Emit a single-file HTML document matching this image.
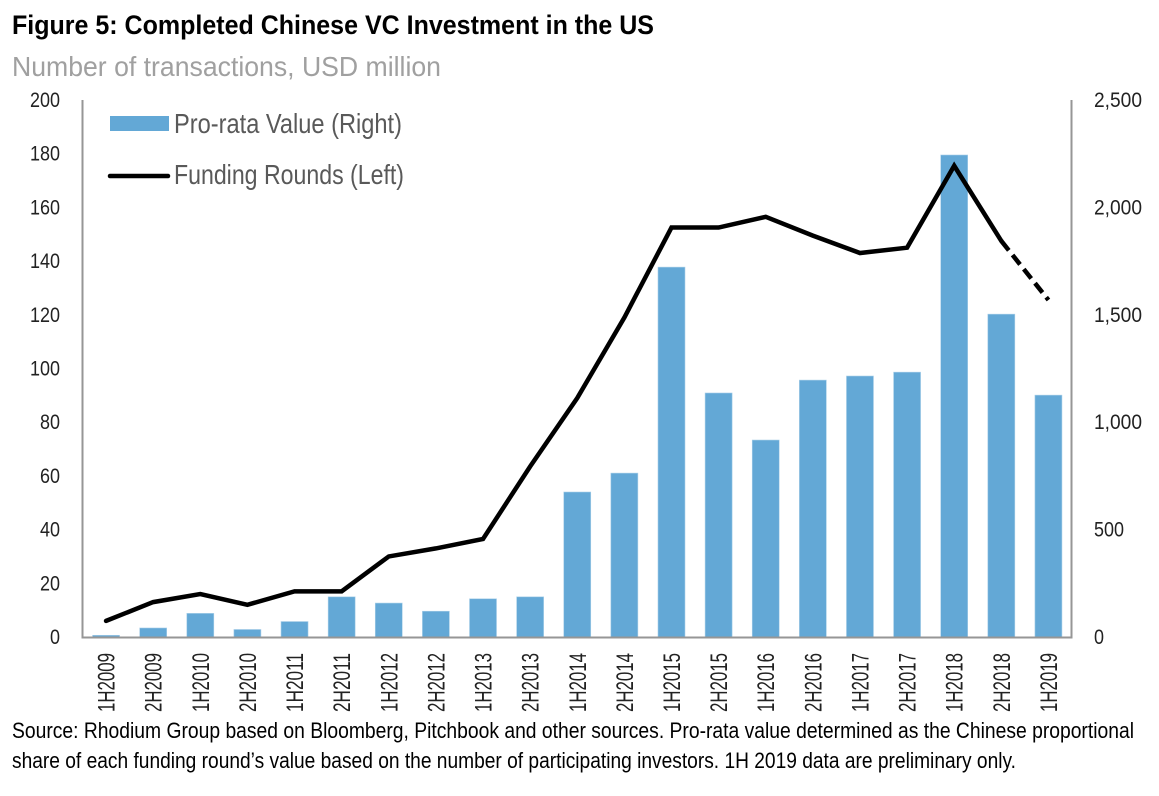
<!DOCTYPE html>
<html>
<head>
<meta charset="utf-8">
<style>
html,body{margin:0;padding:0;background:#fff;width:1159px;height:796px;overflow:hidden}
svg{display:block}
text{font-family:"Liberation Sans",sans-serif}
</style>
</head>
<body>
<svg id="chart" width="1159" height="796" viewBox="0 0 1159 796" xmlns="http://www.w3.org/2000/svg">
  <text x="12" y="34" font-size="27" font-weight="bold" fill="#000" textLength="642" lengthAdjust="spacingAndGlyphs">Figure 5: Completed Chinese VC Investment in the US</text>
  <text x="12" y="76" font-size="28" fill="#a0a0a0" textLength="429" lengthAdjust="spacingAndGlyphs">Number of transactions, USD million</text>
  <g id="bars"></g>
  <path id="axes" d="M82.5 100V637.5H1071.5V100" fill="none" stroke="#969696" stroke-width="2"></path>
  <g id="lines"></g>
  <g id="ticks"></g>
  <rect x="110" y="116" width="59" height="15" fill="#63a8d6"></rect>
  <text x="174" y="133" font-size="28" fill="#595959" textLength="228" lengthAdjust="spacingAndGlyphs">Pro-rata Value (Right)</text>
  <line x1="110" y1="176" x2="168" y2="176" stroke="#000" stroke-width="4.5" stroke-linecap="round"></line>
  <text x="174" y="184" font-size="28" fill="#595959" textLength="230" lengthAdjust="spacingAndGlyphs">Funding Rounds (Left)</text>
  <text x="12" y="738" font-size="22" fill="#000" textLength="1122" lengthAdjust="spacingAndGlyphs">Source: Rhodium Group based on Bloomberg, Pitchbook and other sources. Pro-rata value determined as the Chinese proportional</text>
  <text x="12" y="768" font-size="22" fill="#000" textLength="1004" lengthAdjust="spacingAndGlyphs">share of each funding round’s value based on the number of participating investors. 1H 2019 data are preliminary only.</text>
</svg>
<script>
var categories = ["1H2009","2H2009","1H2010","2H2010","1H2011","2H2011","1H2012","2H2012","1H2013","2H2013","1H2014","2H2014","1H2015","2H2015","1H2016","2H2016","1H2017","2H2017","1H2018","2H2018","1H2019"];
var proRataValue = [8,42,110,35,72,187,158,120,178,187,675,763,1722,1136,917,1196,1215,1233,2244,1503,1126];
var fundingRounds = [6,13,16,12,17,17,30,33,36.5,63.5,89,119,152.5,152.5,156.5,149.5,143,145,175.5,147.5,125.5];
var leftTicks = [0,20,40,60,80,100,120,140,160,180,200];
var rightTicks = ["0","500","1,000","1,500","2,000","2,500"];
var rightTickValues = [0,500,1000,1500,2000,2500];
var preliminaryCount = 1;

var NS = "http://www.w3.org/2000/svg";
var plotLeft = 82.5, plotRight = 1072, plotTop = 100, plotBottom = 637;
var leftMax = 200, rightMax = 2500;
function xBand(i){ return plotLeft + (i + 0.5) * (plotRight - plotLeft) / categories.length; }
function yLeft(v){ return plotBottom - v / leftMax * (plotBottom - plotTop); }
function yRight(v){ return plotBottom - v / rightMax * (plotBottom - plotTop); }
function labelWidth(t){
  var w = 0;
  for (var i = 0; i < t.length; i++) w += t.charAt(i) === "," ? 8 : 10;
  return w;
}
function make(tag, attrs, parent, txt){
  var el = document.createElementNS(NS, tag);
  for (var k in attrs) el.setAttribute(k, attrs[k]);
  if (txt !== undefined) el.textContent = txt;
  parent.appendChild(el);
  return el;
}
var barsG = document.getElementById("bars");
var linesG = document.getElementById("lines");
var ticksG = document.getElementById("ticks");
var barWidth = 27;
proRataValue.forEach(function(v, i){
  var el = make("rect", {x: xBand(i) - barWidth / 2, y: yRight(v), width: barWidth, height: plotBottom - yRight(v), fill: "#63a8d6", stroke: "#a9cfe8", "stroke-width": 0.6}, barsG);
  
  
});
function linePath(from, to){
  var d = "";
  for (var i = from; i <= to; i++) d += (i === from ? "M" : "L") + xBand(i) + " " + yLeft(fundingRounds[i]);
  return d;
}
var lastSolid = fundingRounds.length - 1 - preliminaryCount;
var solid = make("path", {d: linePath(0, lastSolid), fill: "none", stroke: "#000", "stroke-width": 4.5, "stroke-linejoin": "miter", "stroke-linecap": "round"}, linesG);


var dashed = make("path", {d: linePath(lastSolid, fundingRounds.length - 1), fill: "none", stroke: "#000", "stroke-width": 4.5, "stroke-dasharray": "12 6"}, linesG);


leftTicks.forEach(function(v){
  var t = String(v);
  var el = make("text", {x: 60, y: yLeft(v) + 7, "text-anchor": "end", "font-size": 21, fill: "#222", textLength: labelWidth(t), lengthAdjust: "spacingAndGlyphs"}, ticksG, t);
  
  
});
rightTicks.forEach(function(t, i){
  var el = make("text", {x: 1094, y: yRight(rightTickValues[i]) + 7, "font-size": 21, fill: "#222", textLength: labelWidth(t), lengthAdjust: "spacingAndGlyphs"}, ticksG, t);
  
  
});
categories.forEach(function(c, i){
  var x = xBand(i) + 8.5;
  var el = make("text", {x: x, y: 653, "text-anchor": "end", "font-size": 24, fill: "#222", transform: "rotate(-90 " + x + " 653)", textLength: 59, lengthAdjust: "spacingAndGlyphs"}, ticksG, c);
  
  
});
</script>
</body>
</html>
